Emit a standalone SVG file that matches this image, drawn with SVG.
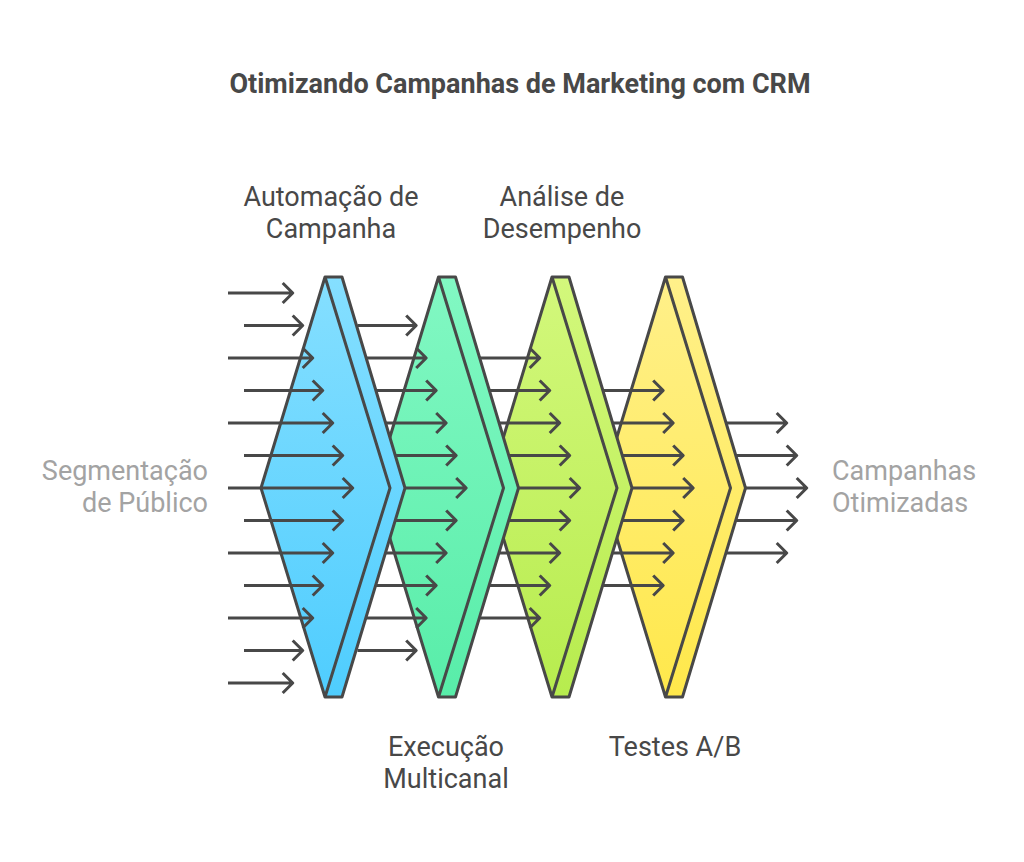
<svg xmlns="http://www.w3.org/2000/svg" width="1024" height="862" viewBox="0 0 1024 862">
<style>
.t{font-family:Roboto,"Liberation Sans",sans-serif;font-size:27px;fill:#484848;text-anchor:middle}
.title{font-family:Roboto,"Liberation Sans",sans-serif;font-size:27px;font-weight:bold;fill:#484848;text-anchor:middle}
.g{font-family:Roboto,"Liberation Sans",sans-serif;font-size:27px;fill:#a3a3a3}
.edge{fill:none;stroke:#484848;stroke-width:3;stroke-linejoin:round}
.arr{fill:none;stroke:#484848;stroke-width:3;stroke-linecap:butt;stroke-linejoin:round}
</style>
<defs>
<linearGradient id="gb" x1="0" y1="0" x2="0" y2="1"><stop offset="0" stop-color="#85dfff"/><stop offset="1" stop-color="#4fcdfe"/></linearGradient>
<linearGradient id="gg" x1="0" y1="0" x2="0" y2="1"><stop offset="0" stop-color="#82f8c3"/><stop offset="1" stop-color="#58eda9"/></linearGradient>
<linearGradient id="gl" x1="0" y1="0" x2="0" y2="1"><stop offset="0" stop-color="#d3f87c"/><stop offset="1" stop-color="#b7ec4e"/></linearGradient>
<linearGradient id="gy" x1="0" y1="0" x2="0" y2="1"><stop offset="0" stop-color="#fff08a"/><stop offset="1" stop-color="#ffe84b"/></linearGradient>
</defs>
<rect width="1024" height="862" fill="#ffffff"/>
<text class="title" x="520" y="93">Otimizando Campanhas de Marketing com CRM</text>

<g id="stage-testes">
<path d="M665.5,277 L682.5,277 L745.5,488 L682.5,697 L665.5,697 L601.5,488 Z" fill="url(#gy)"/>
<path class="edge" d="M665.5,277 L682.5,277 L745.5,488 L682.5,697 L665.5,697 L601.5,488 Z M665.5,277 L730.5,488 L665.5,697"/>
</g>
<g id="stage-analise">
<path d="M552,277 L569,277 L632,488 L569,697 L552,697 L488,488 Z" fill="url(#gl)"/>
<path class="edge" d="M552,277 L569,277 L632,488 L569,697 L552,697 L488,488 Z M552,277 L617,488 L552,697"/>
</g>
<g id="stage-execucao">
<path d="M438.5,277 L455.5,277 L518.5,488 L455.5,697 L438.5,697 L374.5,488 Z" fill="url(#gg)"/>
<path class="edge" d="M438.5,277 L455.5,277 L518.5,488 L455.5,697 L438.5,697 L374.5,488 Z M438.5,277 L503.5,488 L438.5,697"/>
</g>
<g id="stage-automacao">
<path d="M325,277 L342,277 L405,488 L342,697 L325,697 L261,488 Z" fill="url(#gb)"/>
<path class="edge" d="M325,277 L342,277 L405,488 L342,697 L325,697 L261,488 Z M325,277 L390,488 L325,697"/>
</g>

<g id="connectors" class="arr">
<!-- set 0: inputs -->
<path d="M228,293 H292.7 M282.7,283 L292.7,293 L282.7,303"/>
<path d="M244,325.5 H302.7 M292.7,315.5 L302.7,325.5 L292.7,335.5"/>
<path d="M228,358 H312.7 M302.7,348 L312.7,358 L302.7,368"/>
<path d="M244,390.5 H322.7 M312.7,380.5 L322.7,390.5 L312.7,400.5"/>
<path d="M228,423 H332.7 M322.7,413 L332.7,423 L322.7,433"/>
<path d="M244,455.5 H342.7 M332.7,445.5 L342.7,455.5 L332.7,465.5"/>
<path d="M228,488 H352.7 M342.7,478 L352.7,488 L342.7,498"/>
<path d="M244,520.5 H342.7 M332.7,510.5 L342.7,520.5 L332.7,530.5"/>
<path d="M228,553 H332.7 M322.7,543 L332.7,553 L322.7,563"/>
<path d="M244,585.5 H322.7 M312.7,575.5 L322.7,585.5 L312.7,595.5"/>
<path d="M228,618 H312.7 M302.7,608 L312.7,618 L302.7,628"/>
<path d="M244,650.5 H302.7 M292.7,640.5 L302.7,650.5 L292.7,660.5"/>
<path d="M228,683 H292.7 M282.7,673 L292.7,683 L282.7,693"/>
<!-- set 1 -->
<path d="M357.5,325.5 H416.2 M406.2,315.5 L416.2,325.5 L406.2,335.5"/>
<path d="M365.9,358 H426.2 M416.2,348 L426.2,358 L416.2,368"/>
<path d="M375.9,390.5 H436.2 M426.2,380.5 L436.2,390.5 L426.2,400.5"/>
<path d="M385.4,423 H446.2 M436.2,413 L446.2,423 L436.2,433"/>
<path d="M395.1,455.5 H456.2 M446.2,445.5 L456.2,455.5 L446.2,465.5"/>
<path d="M405,488 H466.2 M456.2,478 L466.2,488 L456.2,498"/>
<path d="M395.1,520.5 H456.2 M446.2,510.5 L456.2,520.5 L446.2,530.5"/>
<path d="M385.4,553 H446.2 M436.2,543 L446.2,553 L436.2,563"/>
<path d="M375.9,585.5 H436.2 M426.2,575.5 L436.2,585.5 L426.2,595.5"/>
<path d="M365.9,618 H426.2 M416.2,608 L426.2,618 L416.2,628"/>
<path d="M357.5,650.5 H416.2 M406.2,640.5 L416.2,650.5 L406.2,660.5"/>
<!-- set 2 -->
<path d="M479.4,358 H539.7 M529.7,348 L539.7,358 L529.7,368"/>
<path d="M489.4,390.5 H549.7 M539.7,380.5 L549.7,390.5 L539.7,400.5"/>
<path d="M498.9,423 H559.7 M549.7,413 L559.7,423 L549.7,433"/>
<path d="M508.6,455.5 H569.7 M559.7,445.5 L569.7,455.5 L559.7,465.5"/>
<path d="M518.5,488 H579.7 M569.7,478 L579.7,488 L569.7,498"/>
<path d="M508.6,520.5 H569.7 M559.7,510.5 L569.7,520.5 L559.7,530.5"/>
<path d="M498.9,553 H559.7 M549.7,543 L559.7,553 L549.7,563"/>
<path d="M489.4,585.5 H549.7 M539.7,575.5 L549.7,585.5 L539.7,595.5"/>
<path d="M479.4,618 H539.7 M529.7,608 L539.7,618 L529.7,628"/>
<!-- set 3 -->
<path d="M602.9,390.5 H663.2 M653.2,380.5 L663.2,390.5 L653.2,400.5"/>
<path d="M612.4,423 H673.2 M663.2,413 L673.2,423 L663.2,433"/>
<path d="M622.1,455.5 H683.2 M673.2,445.5 L683.2,455.5 L673.2,465.5"/>
<path d="M632,488 H693.2 M683.2,478 L693.2,488 L683.2,498"/>
<path d="M622.1,520.5 H683.2 M673.2,510.5 L683.2,520.5 L673.2,530.5"/>
<path d="M612.4,553 H673.2 M663.2,543 L673.2,553 L663.2,563"/>
<path d="M602.9,585.5 H663.2 M653.2,575.5 L663.2,585.5 L653.2,595.5"/>
<!-- set 4: outputs -->
<path d="M725.9,423 H786.7 M776.7,413 L786.7,423 L776.7,433"/>
<path d="M735.6,455.5 H796.7 M786.7,445.5 L796.7,455.5 L786.7,465.5"/>
<path d="M745.5,488 H806.7 M796.7,478 L806.7,488 L796.7,498"/>
<path d="M735.6,520.5 H796.7 M786.7,510.5 L796.7,520.5 L786.7,530.5"/>
<path d="M725.9,553 H786.7 M776.7,543 L786.7,553 L776.7,563"/>
</g>

<g id="label-automacao"><text class="t" x="331" y="206">Automação de</text><text class="t" x="331" y="238">Campanha</text></g>
<g id="label-analise"><text class="t" x="562" y="206">Análise de</text><text class="t" x="562" y="238">Desempenho</text></g>
<g id="label-execucao"><text class="t" x="446" y="756">Execução</text><text class="t" x="446" y="788">Multicanal</text></g>
<g id="label-testes"><text class="t" x="675" y="756">Testes A/B</text></g>
<g id="label-entrada"><text class="g" x="208" y="480" text-anchor="end">Segmentação</text><text class="g" x="208" y="512" text-anchor="end">de Público</text></g>
<g id="label-saida"><text class="g" x="832" y="480">Campanhas</text><text class="g" x="832" y="512">Otimizadas</text></g>
</svg>
